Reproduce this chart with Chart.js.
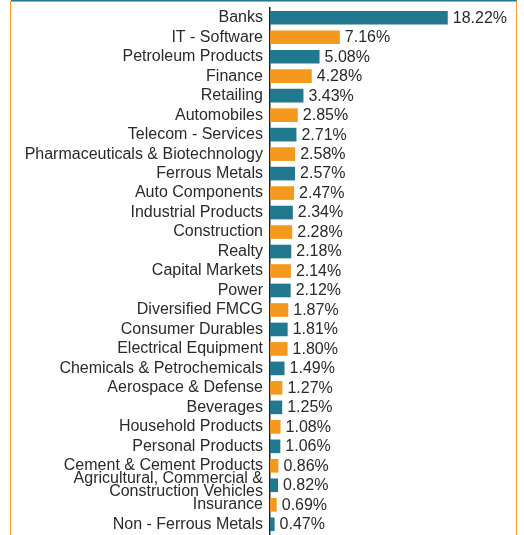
<!DOCTYPE html>
<html>
<head>
<meta charset="utf-8">
<script src="https://cdn.jsdelivr.net/npm/chart.js@4/dist/chart.umd.min.js"></script>
<style>
  html, body { margin: 0; padding: 0; background: #fff; }
  #wrap { position: relative; width: 524px; height: 535px; overflow: hidden; }
  #frame { position: absolute; left: 10px; top: 1px; width: 505px; height: 600px;
           border-left: 1.5px solid #f7a01c; border-right: 1.5px solid #f7a01c; border-top: 1.5px solid #f7a01c; }
  #topline { position: absolute; left: 11px; top: 0; width: 506px; height: 1px; background: #22788f; }
  canvas { position: absolute; left: 0; top: 0; }
</style>
</head>
<body>
<div id="wrap">
  <div id="frame"></div>
  <div id="topline"></div>
  <canvas id="c" width="524" height="535"></canvas>
</div>
<script>
const categories = [
  "Banks", "IT - Software", "Petroleum Products", "Finance", "Retailing", "Automobiles",
  "Telecom - Services", "Pharmaceuticals & Biotechnology", "Ferrous Metals", "Auto Components",
  "Industrial Products", "Construction", "Realty", "Capital Markets", "Power", "Diversified FMCG",
  "Consumer Durables", "Electrical Equipment", "Chemicals & Petrochemicals", "Aerospace & Defense",
  "Beverages", "Household Products", "Personal Products", "Cement & Cement Products",
  ["Agricultural, Commercial &", "Construction Vehicles"], "Insurance", "Non - Ferrous Metals"
];
const weights = [
  18.22, 7.16, 5.08, 4.28, 3.43, 2.85, 2.71, 2.58, 2.57, 2.47, 2.34, 2.28, 2.18, 2.14, 2.12,
  1.87, 1.81, 1.80, 1.49, 1.27, 1.25, 1.08, 1.06, 0.86, 0.82, 0.69, 0.47
];
const palette = ["#22788f", "#f5991e"];
const barColors = weights.map((v, i) => palette[i % 2]);

Chart.defaults.font.family = "'Liberation Sans', Arial, Helvetica, sans-serif";
Chart.defaults.color = "#2a2a2a";

const valueLabels = {
  id: 'valueLabels',
  afterDatasetsDraw(chart) {
    const ctx = chart.ctx;
    const meta = chart.getDatasetMeta(0);
    ctx.save();
    ctx.font = "16px 'Liberation Sans', Arial, Helvetica, sans-serif";
    ctx.fillStyle = "#2a2a2a";
    ctx.textAlign = "left";
    ctx.textBaseline = "middle";
    meta.data.forEach((bar, i) => {
      ctx.fillText(weights[i].toFixed(2) + "%", bar.x + 5, bar.y + 0.5);
    });
    ctx.restore();
  }
};

new Chart(document.getElementById('c'), {
  type: 'bar',
  data: {
    labels: categories,
    datasets: [{
      data: weights,
      backgroundColor: barColors,
      barPercentage: 0.7,
      categoryPercentage: 1.0
    }]
  },
  options: {
    indexAxis: 'y',
    responsive: false,
    animation: false,
    layout: { padding: { left: 0, right: 14, top: 8, bottom: 1 } },
    plugins: { legend: { display: false }, tooltip: { enabled: false } },
    scales: {
      x: { display: false, min: 0, max: 24.6 },
      y: {
        afterFit(scale) { scale.width = 270; scale.paddingTop = 0; scale.paddingBottom = 0; },
        grid: { display: false, drawTicks: false },
        border: { display: true, color: '#222', width: 1.5 },
        ticks: {
          padding: 7,
          color: '#2a2a2a',
          font: { size: 16, lineHeight: 0.79 },
          autoSkip: false
        }
      }
    }
  },
  plugins: [valueLabels]
});
</script>
</body>
</html>
